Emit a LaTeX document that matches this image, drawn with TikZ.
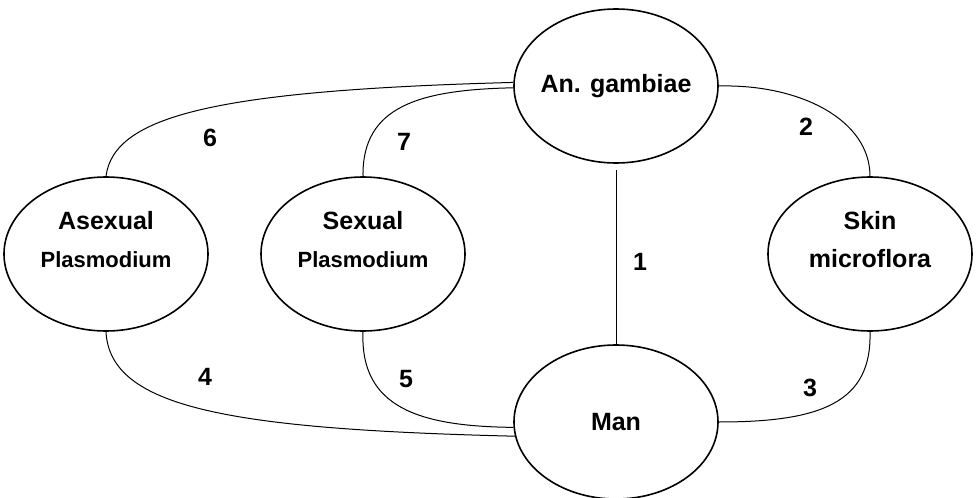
\documentclass[tikz,border=0pt]{standalone}
\usepackage{fontspec}
\setmainfont{Liberation Sans}
\usetikzlibrary{positioning,shapes.geometric}

\begin{document}
\begin{tikzpicture}[on grid, every node/.style={font=\bfseries\fontsize{12.5pt}{19pt}\selectfont},
  host/.style={ellipse, draw, line width=0.8pt, minimum width=102pt, minimum height=77pt, inner xsep=-10pt, inner ysep=0pt, align=center},
  two/.style={text depth=15pt}, link/.style={line width=0.5pt}]
\useasboundingbox (0,0) rectangle (488pt,-249pt);
\node (gam) [host] at (308pt,-43pt) {An. gambiae};
\node (man) [host, below=168pt of gam] {Man};
\node (sex) [host, two, below left=84pt and 126.5pt of gam] {Sexual\\{\fontsize{11pt}{19pt}\selectfont Plasmodium}};
\node (asex) [host, two, left=128.5pt of sex] {Asexual\\{\fontsize{11pt}{19pt}\selectfont Plasmodium}};
\node (skin) [host, two, below right=84pt and 127pt of gam] {Skin\\microflora};
\draw[link, shorten <=3pt] (gam.south) -- (man.north);
\draw[link] (gam.east) .. controls +(41pt,1pt) and +(0pt,28pt) .. (skin.north);
\draw[link] (skin.south) .. controls +(1pt,-35.5pt) and +(51pt,0pt) .. (man.east);
\draw[link] (asex.south) .. controls +(2pt,-38pt) and +(-143pt,3.5pt) .. (man.188);
\draw[link] (sex.south) .. controls +(-1.5pt,-38pt) and +(-47pt,0.5pt) .. (man.183);
\draw[link] (asex.north) .. controls +(4pt,30pt) and +(-150pt,-4pt) .. (gam.178);
\draw[link] (sex.north) .. controls +(-0.5pt,35pt) and +(-47pt,-1pt) .. (gam.181);
\node (n1) at (320pt,-131pt) {1};
\node (n2) at (403pt,-63.5pt) {2};
\node (n3) at (405pt,-194pt) {3};
\node (n4) at (102.5pt,-188.5pt) {4};
\node (n5) at (203pt,-189.5pt) {5};
\node (n6) at (105pt,-69pt) {6};
\node (n7) at (202pt,-71pt) {7};
\end{tikzpicture}
\end{document}
